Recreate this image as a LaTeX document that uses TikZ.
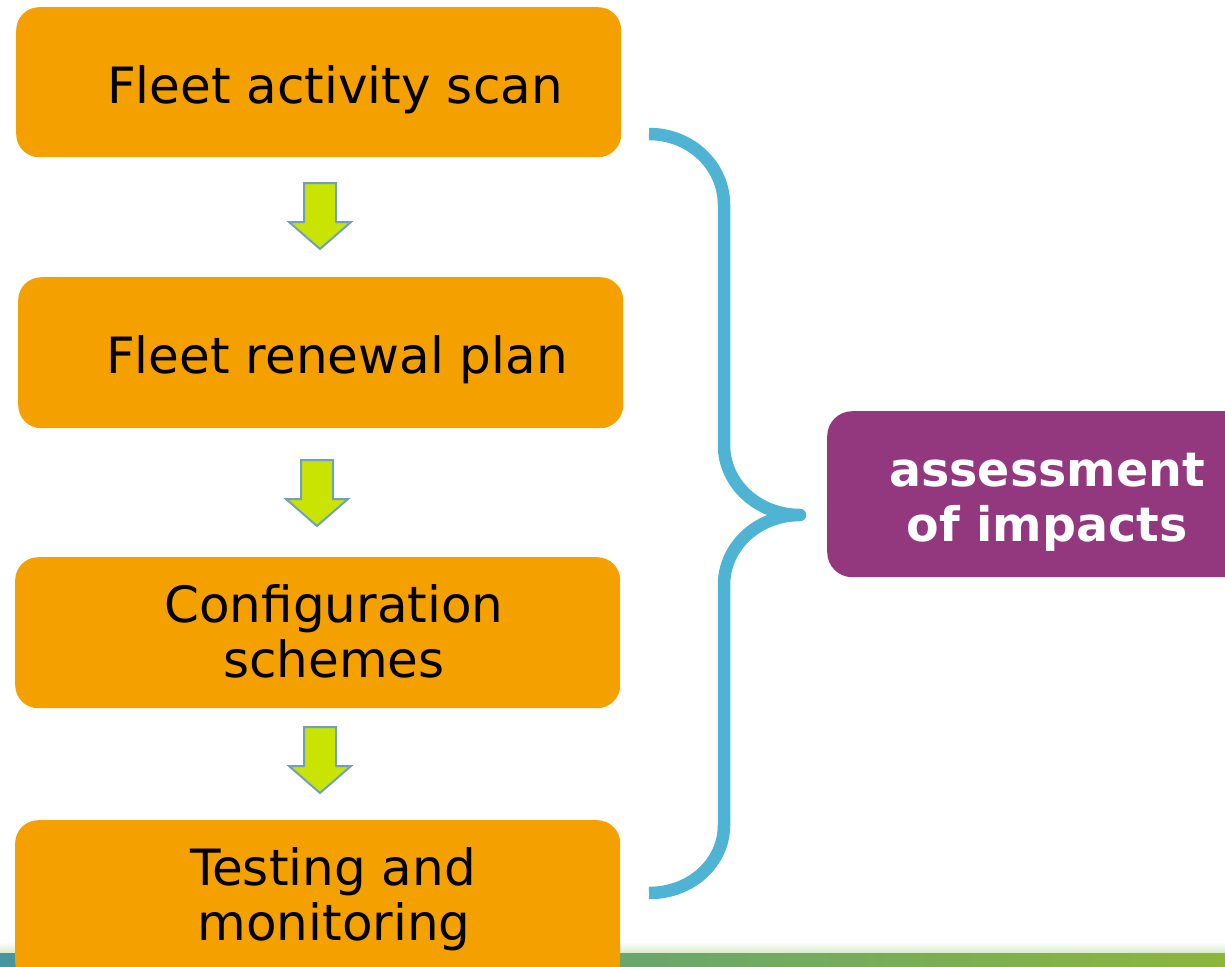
\documentclass[tikz,border=0pt]{standalone}
\usepackage{fontspec}
\setmainfont{DejaVu Sans}
\definecolor{boxorange}{RGB}{244,161,0}
\definecolor{bracecol}{RGB}{79,180,212}
\definecolor{impactcol}{RGB}{147,56,126}
\definecolor{arrowfill}{RGB}{200,228,0}
\definecolor{arrowedge}{RGB}{112,160,190}
\definecolor{stripL}{RGB}{70,150,160}
\definecolor{stripM}{RGB}{120,170,100}
\definecolor{stripR}{RGB}{140,182,60}
\definecolor{stripTop}{RGB}{215,235,200}
\tikzset{
  stepbox/.style={fill=boxorange, draw=none, rounded corners=23pt, anchor=north west, inner sep=0pt},
  boxtext/.style={anchor=base, inner sep=0pt, font=\fontsize{50}{55}\selectfont, text=black},
  impactbox/.style={fill=impactcol, draw=none, rounded corners=25pt, anchor=north west, inner sep=0pt},
  impacttext/.style={anchor=base, inner sep=0pt, font=\fontsize{47.5}{55}\selectfont\bfseries, text=white},
  bracestyle/.style={draw=bracecol, line width=12.5pt, line join=round, line cap=butt},
  downarrow/.pic={\filldraw[fill=arrowfill, draw=arrowedge, line width=2pt, line join=miter]
     (-16,0) -- (16,0) -- (16,39) -- (31,39) -- (0,66) -- (-31,39) -- (-16,39) -- cycle;}
}
\begin{document}
\begin{tikzpicture}[x=1pt,y=-1pt]
\useasboundingbox (0,0) rectangle (1225,966);
\clip (0,0) rectangle (1225,966);
\fill[white] (0,0) rectangle (1225,966);
% bottom strip
\shade[top color=white, bottom color=stripTop] (0,942) rectangle (1225,953);
\shade[left color=stripL, middle color=stripM, right color=stripR] (0,953) rectangle (1225,966);
% boxes
\node[stepbox, minimum width=605pt, minimum height=150pt] (b1) at (16,7) {};
\node[stepbox, minimum width=605pt, minimum height=151pt] (b2) at (18,277) {};
\node[stepbox, minimum width=605pt, minimum height=151pt] (b3) at (15,557) {};
\node[stepbox, minimum width=605pt, minimum height=165pt] (b4) at (15,820) {};
\node[boxtext] (t1) at (335,103) {Fleet activity scan};
\node[boxtext] (t2) at (337,373) {Fleet renewal plan};
\node[boxtext] (t3a) at (334,622) {Configuration};
\node[boxtext] (t3b) at (334,677) {schemes};
\node[boxtext] (t4a) at (333,885) {Testing and};
\node[boxtext] (t4b) at (334,940) {monitoring};
% arrows
\pic (a1) at (320,183) {downarrow};
\pic (a2) at (317,460) {downarrow};
\pic (a3) at (320,727) {downarrow};
% brace
\coordinate (bt) at (649,134);
\coordinate (bm) at (800,515);
\coordinate (bb) at (649,893);
\draw[bracestyle] (bt) .. controls (691,134) and (724,166) .. (724,205) -- (724,445)
   .. controls (724,484) and (758,515) .. (bm)
   .. controls (758,515) and (724,546) .. (724,585) -- (724,825)
   .. controls (724,863) and (691,893) .. (bb);
% impact box
\node[impactbox, minimum width=440pt, minimum height=166pt] (p) at (827,411) {};
\node[impacttext] (p1) at (1047,486) {assessment};
\node[impacttext] (p2) at (1047,541) {of impacts};
\end{tikzpicture}
\end{document}
